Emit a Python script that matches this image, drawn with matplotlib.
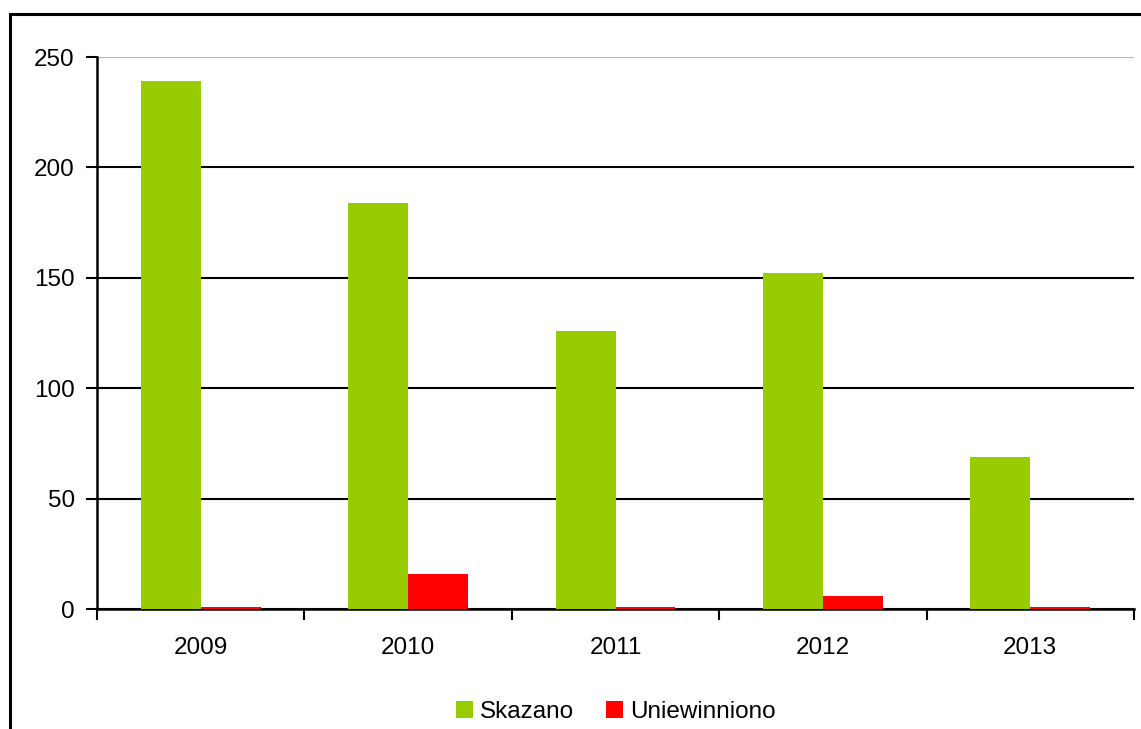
import numpy as np
import matplotlib

matplotlib.use('Agg')
import matplotlib.pyplot as plt
from matplotlib.patches import Rectangle

years = ['2009', '2010', '2011', '2012', '2013']
skazano = [239, 184, 126, 152, 69]
uniewinniono = [1, 16, 1, 6, 1]

plt.rcParams['font.family'] = ['Liberation Sans', 'DejaVu Sans']
plt.rcParams['font.size'] = 17.5

W, H = 1141, 729
fig = plt.figure(figsize=(W / 100, H / 100), dpi=100)

# outer frame, only its left and top edges fall inside the image
fig.patches.append(Rectangle((10 / W, -0.1), 1.2, 1 - 14 / H + 0.1,
                             transform=fig.transFigure, fill=False,
                             edgecolor='black', linewidth=2.2))

ax = fig.add_axes([97 / W, 1 - 609 / H, (1134 - 97) / W, (609 - 57) / H])

x = np.arange(len(years))
w = 0.289
ax.bar(x - w / 2, skazano, w, color='#99cc00', label='Skazano', zorder=3)
ax.bar(x + w / 2, uniewinniono, w, color='#ff0000', label='Uniewinniono', zorder=3)

ax.set_xlim(-0.5, len(years) - 0.5)
ax.set_ylim(0, 250)
ax.set_yticks(np.arange(0, 251, 50))

ax.set_xticks(x)
ax.set_xticklabels(years)
ax.set_xticks(np.arange(-0.5, len(years), 1), minor=True)
ax.tick_params(axis='x', which='major', length=0, pad=20)
ax.tick_params(axis='x', which='minor', length=8, width=1.5, direction='out')
ax.tick_params(axis='y', length=8, width=1.5, direction='out', pad=8)

ax.yaxis.grid(True, color='black', linewidth=1.5, zorder=1)
ax.get_ygridlines()[-1].set_color('#b4b4b4')
ax.set_axisbelow(True)

for s in ['top', 'right']:
    ax.spines[s].set_visible(False)
for s in ['left', 'bottom']:
    ax.spines[s].set_linewidth(1.8)
    ax.spines[s].set_zorder(2)

fig.legend(loc='center', bbox_to_anchor=(616 / W, 1 - 712 / H), ncol=2,
           frameon=False, handlelength=0.7, handleheight=0.7,
           handletextpad=0.3, columnspacing=1.3)

fig.savefig('out.png', dpi=100)
